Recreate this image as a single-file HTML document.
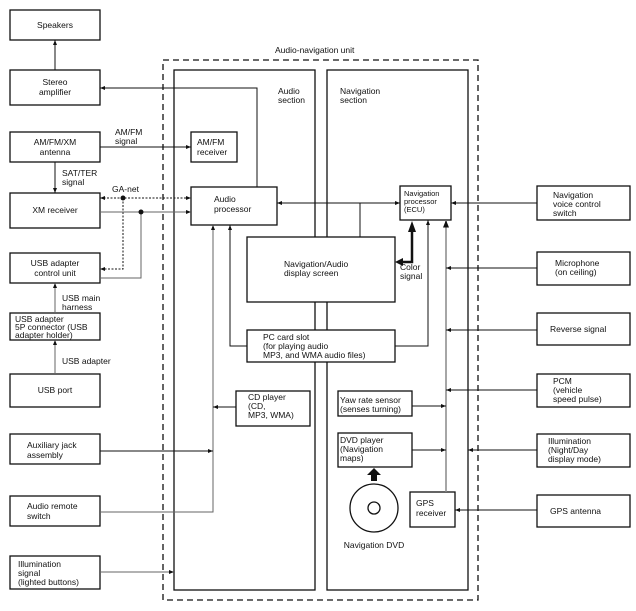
<!DOCTYPE html>
<html><head><meta charset="utf-8"><style>
html,body{margin:0;padding:0;background:#fff;}
svg{display:block;font-family:"Liberation Sans",Arial,sans-serif;font-size:8.5px;}
</style></head><body>
<svg width="636" height="611" viewBox="0 0 636 611" xmlns="http://www.w3.org/2000/svg">
<defs>
<marker id="a" viewBox="0 0 10 10" refX="10" refY="5" markerWidth="6" markerHeight="5" orient="auto-start-reverse"><path d="M0,1 L10,5 L0,9 z" fill="#111"/></marker>
</defs>
<g fill="none" stroke="#111" stroke-width="1.3">
<!-- left boxes -->
<rect x="10" y="10" width="90" height="30"/>
<rect x="10" y="70" width="90" height="35"/>
<rect x="10" y="132" width="90" height="30"/>
<rect x="10" y="193" width="90" height="35"/>
<rect x="10" y="253" width="90" height="30"/>
<rect x="10" y="313" width="90" height="27"/>
<rect x="10" y="374" width="90" height="33"/>
<rect x="10" y="434" width="90" height="30"/>
<rect x="10" y="496" width="90" height="30"/>
<rect x="10" y="556" width="90" height="33"/>
<!-- right boxes -->
<rect x="537" y="186" width="93" height="34"/>
<rect x="537" y="252" width="93" height="33"/>
<rect x="537" y="313" width="93" height="32"/>
<rect x="537" y="374" width="93" height="33"/>
<rect x="537" y="434" width="93" height="33"/>
<rect x="537" y="495" width="93" height="32"/>
<!-- unit -->
<rect x="163" y="60" width="315" height="540" stroke-dasharray="6,4"/>
<rect x="174" y="70" width="141" height="520"/>
<rect x="327" y="70" width="141" height="520"/>
<!-- inner boxes -->
<rect x="191" y="132" width="46" height="30" fill="#fff"/>
<rect x="191" y="187" width="86" height="38" fill="#fff"/>
<rect x="400" y="186" width="51" height="34" fill="#fff"/>
<rect x="247" y="237" width="148" height="65" fill="#fff"/>
<rect x="247" y="330" width="148" height="32" fill="#fff"/>
<rect x="236" y="391" width="74" height="35" fill="#fff"/>
<rect x="338" y="391" width="74" height="25" fill="#fff"/>
<rect x="338" y="433" width="74" height="34" fill="#fff"/>
<rect x="410" y="492" width="45" height="35" fill="#fff"/>
<circle cx="374" cy="508" r="24"/>
<circle cx="374" cy="508" r="6"/>
</g>
<g fill="none" stroke="#111" stroke-width="1">
<line x1="55" y1="70" x2="55" y2="40" marker-end="url(#a)"/>
<polyline points="257,187 257,88 100,88" marker-end="url(#a)"/>
<line x1="100" y1="147" x2="191" y2="147" marker-end="url(#a)"/>
<line x1="55" y1="162" x2="55" y2="193" marker-end="url(#a)"/>
<path d="M100,198 L191,198" stroke-dasharray="2,1.5" marker-start="url(#a)" marker-end="url(#a)"/>
<path d="M123,198 L123,269 L100,269" stroke-dasharray="2,1.5" marker-end="url(#a)"/>
<line x1="100" y1="212" x2="191" y2="212" marker-end="url(#a)" stroke="#666"/>
<polyline points="141,212 141,278 100,278" stroke="#666"/>
<line x1="55" y1="313" x2="55" y2="283" marker-end="url(#a)" stroke="#666"/>
<line x1="55" y1="374" x2="55" y2="340" marker-end="url(#a)" stroke="#666"/>
<polyline points="100,512 213,512 213,225" stroke="#666" marker-end="url(#a)"/>
<line x1="100" y1="451" x2="213" y2="451" marker-end="url(#a)"/>
<line x1="236" y1="407" x2="213" y2="407" marker-end="url(#a)"/>
<polyline points="247,346 230,346 230,225" marker-end="url(#a)"/>
<line x1="100" y1="572" x2="174" y2="572" marker-end="url(#a)" stroke="#666"/>
<line x1="277" y1="203" x2="400" y2="203" marker-start="url(#a)" marker-end="url(#a)"/>
<line x1="360" y1="203" x2="360" y2="237"/>
<polyline points="395,346 428,346 428,220" marker-end="url(#a)"/>
<line x1="446" y1="492" x2="446" y2="220" stroke="#888" stroke-width="1.5" marker-end="url(#a)"/>
<line x1="537" y1="203" x2="451" y2="203" marker-end="url(#a)"/>
<line x1="537" y1="268" x2="446" y2="268" marker-end="url(#a)"/>
<line x1="537" y1="330" x2="446" y2="330" marker-end="url(#a)"/>
<line x1="537" y1="390" x2="446" y2="390" marker-end="url(#a)"/>
<line x1="537" y1="450" x2="468" y2="450" marker-end="url(#a)"/>
<line x1="537" y1="510" x2="455" y2="510" marker-end="url(#a)"/>
<line x1="412" y1="406" x2="446" y2="406" marker-end="url(#a)"/>
<line x1="412" y1="450" x2="446" y2="450" marker-end="url(#a)"/>
</g>
<polyline points="400,262 412,262 412,232" fill="none" stroke="#111" stroke-width="2.5"/>
<path d="M395,262 L403,258 L403,266 z M412,221 L408,232 L416,232 z" fill="#111"/>
<path d="M371,481 L371,475 L367,475 L374,468 L381,475 L377,475 L377,481 z" fill="#111"/>
<circle cx="123" cy="198" r="2.5" fill="#111"/>
<circle cx="141" cy="212" r="2.5" fill="#111"/>
<g fill="#111">
<text x="55" y="28" text-anchor="middle">Speakers</text>
<text x="55" y="85" text-anchor="middle">Stereo</text><text x="55" y="95" text-anchor="middle">amplifier</text>
<text x="55" y="145" text-anchor="middle">AM/FM/XM</text><text x="55" y="155" text-anchor="middle">antenna</text>
<text x="55" y="213" text-anchor="middle">XM receiver</text>
<text x="55" y="266" text-anchor="middle">USB adapter</text><text x="55" y="276" text-anchor="middle">control unit</text>
<text x="15" y="322">USB adapter</text><text x="15" y="330">5P connector (USB</text><text x="15" y="338">adapter holder)</text>
<text x="55" y="393" text-anchor="middle">USB port</text>
<text x="27" y="448">Auxiliary jack</text><text x="27" y="458">assembly</text>
<text x="27" y="509">Audio remote</text><text x="27" y="519">switch</text>
<text x="18" y="567">Illumination</text><text x="18" y="576">signal</text><text x="18" y="585">(lighted buttons)</text>
<text x="115" y="135">AM/FM</text><text x="115" y="144">signal</text>
<text x="62" y="176">SAT/TER</text><text x="62" y="185">signal</text>
<text x="112" y="192">GA-net</text>
<text x="62" y="301">USB main</text><text x="62" y="310">harness</text>
<text x="62" y="364">USB adapter</text>
<text x="275" y="53">Audio-navigation unit</text>
<text x="278" y="94">Audio</text><text x="278" y="103">section</text>
<text x="340" y="94">Navigation</text><text x="340" y="103">section</text>
<text x="197" y="145">AM/FM</text><text x="197" y="155">receiver</text>
<text x="214" y="202">Audio</text><text x="214" y="212">processor</text>
<text x="404" y="196" font-size="7.5">Navigation</text><text x="404" y="204" font-size="7.5">processor</text><text x="404" y="212" font-size="7.5">(ECU)</text>
<text x="284" y="267">Navigation/Audio</text><text x="284" y="276">display screen</text>
<text x="400" y="270">Color</text><text x="400" y="279">signal</text>
<text x="263" y="340">PC card slot</text><text x="263" y="349">(for playing audio</text><text x="263" y="358">MP3, and WMA audio files)</text>
<text x="248" y="400">CD player</text><text x="248" y="409">(CD,</text><text x="248" y="418">MP3, WMA)</text>
<text x="340" y="403">Yaw rate sensor</text><text x="340" y="412">(senses turning)</text>
<text x="340" y="443">DVD player</text><text x="340" y="452">(Navigation</text><text x="340" y="461">maps)</text>
<text x="416" y="506">GPS</text><text x="416" y="516">receiver</text>
<text x="374" y="548" text-anchor="middle">Navigation DVD</text>
<text x="553" y="198">Navigation</text><text x="553" y="207">voice control</text><text x="553" y="216">switch</text>
<text x="555" y="266">Microphone</text><text x="555" y="275">(on ceiling)</text>
<text x="550" y="332">Reverse signal</text>
<text x="553" y="384">PCM</text><text x="553" y="393">(vehicle</text><text x="553" y="402">speed pulse)</text>
<text x="548" y="444">Illumination</text><text x="548" y="453">(Night/Day</text><text x="548" y="462">display mode)</text>
<text x="550" y="514">GPS antenna</text>
</g>
</svg>
</body></html>
